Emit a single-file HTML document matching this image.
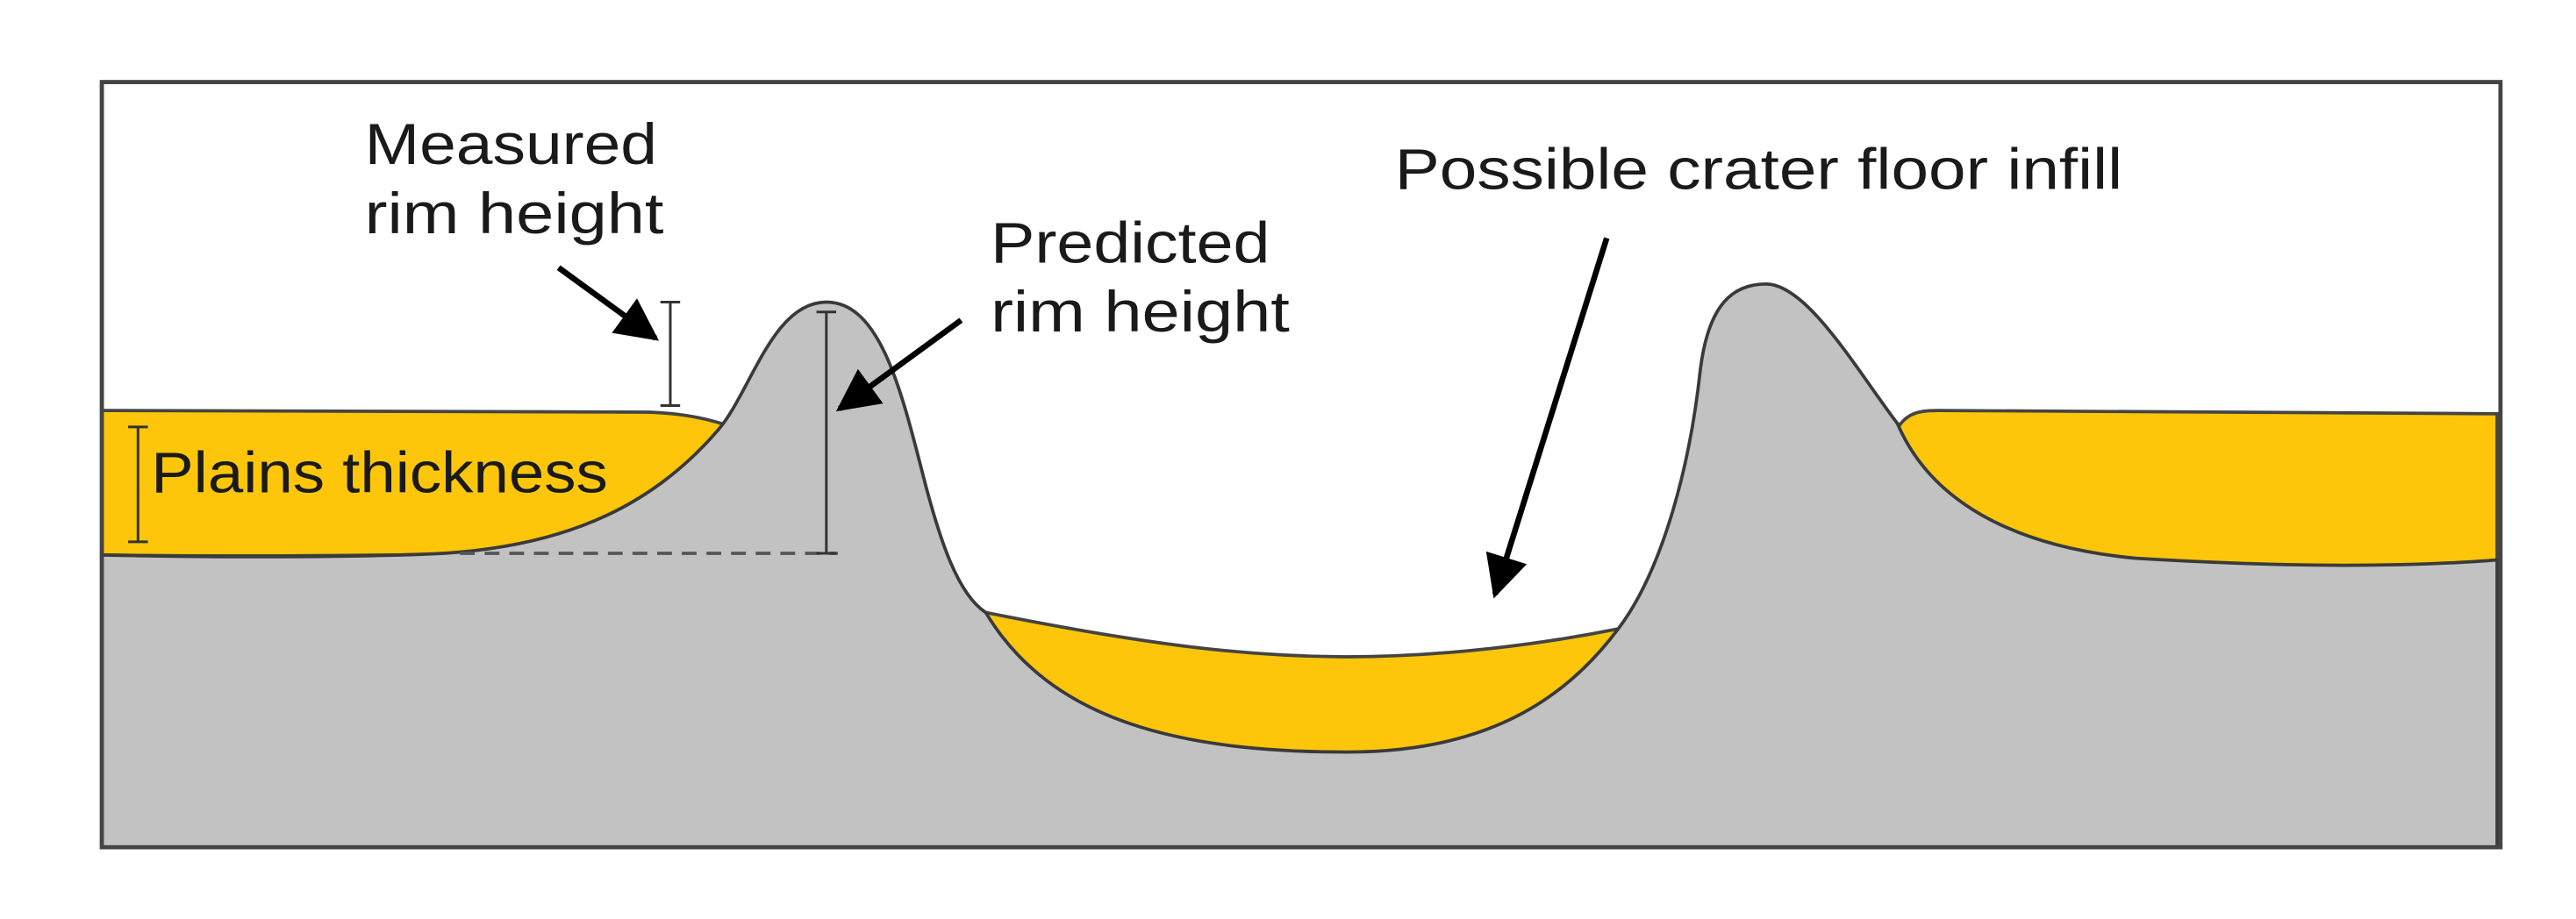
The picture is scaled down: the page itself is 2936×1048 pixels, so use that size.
<!DOCTYPE html>
<html><head><meta charset="utf-8"><style>html,body{margin:0;padding:0;background:#fff}svg{display:block}</style></head>
<body>
<svg width="2936" height="1048" viewBox="0 0 1568 559.7" xmlns="http://www.w3.org/2000/svg" font-family="'Liberation Sans Narrow','Liberation Sans',sans-serif" fill="#1a1a1a">
<defs>
<marker id="ah2" viewBox="0 0 10 10" refX="9" refY="5" markerWidth="26" markerHeight="26" orient="auto" markerUnits="userSpaceOnUse"><path d="M0,0 L10,5 L0,10 Z" fill="#000"/></marker></defs>
<rect x="62" y="50" width="1460" height="466" fill="#fff" stroke="#444" stroke-width="2.5"/>
<!-- yellow areas -->
<path d="M62,250 L395,251 C425,252 440,258 460,265 L460,335 C350,336 200,340 62,338 Z" fill="#fdc60b" stroke="#444" stroke-width="2"/>
<path d="M600,373 C700,393 760,400 820,400 C880,400 940,392 985,383 L985,460 L600,460 Z" fill="#fdc60b" stroke="#444" stroke-width="2"/>
<path d="M1150,270 C1158,252 1165,250 1180,250 L1520,252 L1520,345 L1150,345 Z" fill="#fdc60b" stroke="#444" stroke-width="2"/>
<!-- grey ground -->
<path d="M62,338 C150,340 230,339 270,337 C350,332 400,305 437,262 C457,239 470,184 503,184 C535,184 548,235 562,290 C572,329 583,362 600,373 C640,440 720,458 820,458 C900,458 950,430 985,383 C1010,350 1028,290 1035,225 C1040,185 1055,173 1075,173 C1100,173 1130,225 1155,258 C1175,305 1225,333 1300,340 C1400,346 1470,345 1520,341 L1520,516 L62,516 Z" fill="#c2c2c2" stroke="#3a3a3a" stroke-width="2"/>
<rect x="62" y="50" width="1460" height="466" fill="none" stroke="#444" stroke-width="2.5"/>
<!-- dashed baseline -->
<line x1="280" y1="337" x2="510" y2="337" stroke="#555" stroke-width="2" stroke-dasharray="9,6"/>
<!-- I bars -->
<g stroke="#333" stroke-width="1.6">
<line x1="408" y1="184" x2="408" y2="247"/><line x1="402" y1="184" x2="414" y2="184"/><line x1="402" y1="247" x2="414" y2="247"/>
<line x1="503" y1="190" x2="503" y2="337"/><line x1="497" y1="190" x2="509" y2="190"/><line x1="497" y1="337" x2="509" y2="337"/>
<line x1="84" y1="260" x2="84" y2="330"/><line x1="78" y1="260" x2="90" y2="260"/><line x1="78" y1="330" x2="90" y2="330"/>
</g>
<!-- arrows -->
<g stroke="#000" stroke-width="3.5">
<line x1="340" y1="163" x2="399" y2="206" marker-end="url(#ah2)"/>
<line x1="585" y1="195" x2="511" y2="249" marker-end="url(#ah2)"/>
<line x1="978" y1="145" x2="910" y2="362" marker-end="url(#ah2)"/>
</g>
<!-- labels -->
<g font-size="35">
<text x="222" y="100" textLength="178" lengthAdjust="spacingAndGlyphs">Measured</text>
<text x="222" y="142" textLength="182" lengthAdjust="spacingAndGlyphs">rim height</text>
<text x="603" y="160" textLength="170" lengthAdjust="spacingAndGlyphs">Predicted</text>
<text x="603" y="202" textLength="182" lengthAdjust="spacingAndGlyphs">rim height</text>
<text x="92" y="300" textLength="278" lengthAdjust="spacingAndGlyphs">Plains thickness</text>
<text x="849" y="115" textLength="443" lengthAdjust="spacingAndGlyphs">Possible crater floor infill</text>
</g>
</svg>
</body></html>
